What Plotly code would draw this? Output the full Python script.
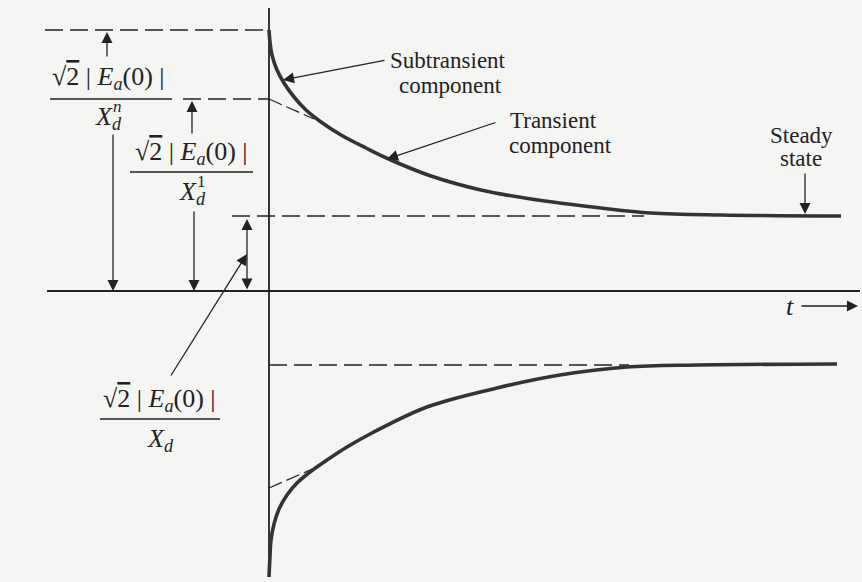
import plotly.graph_objects as go

# ---------------- data (t in arbitrary time units, i in arbitrary current units) ----------
upper_t = [0.00, 0.01, 0.03, 0.08, 0.15, 0.25, 0.37, 0.52, 0.72, 0.97, 1.22, 1.62, 2.12, 2.62, 3.32, 3.82, 4.52, 5.72]
upper_i = [2.61, 2.49, 2.36, 2.21, 2.08, 1.94, 1.81, 1.69, 1.56, 1.43, 1.31, 1.15, 1.01, 0.92, 0.83, 0.78, 0.76, 0.75]

lower_t = [0.00, 0.01, 0.02, 0.05, 0.10, 0.18, 0.28, 0.41, 0.58, 0.78, 1.03, 1.58, 2.28, 2.91, 3.58, 4.28, 5.68]
lower_i = [-2.86, -2.65, -2.49, -2.33, -2.18, -2.04, -1.92, -1.81, -1.69, -1.56, -1.42, -1.16, -0.97, -0.84, -0.76, -0.74, -0.73]

# extrapolated transient envelopes (dashed)
trans_up_t = [0.00, 0.45]
trans_up_i = [1.92, 1.72]
trans_lo_t = [0.00, 0.48]
trans_lo_i = [-1.97, -1.76]

# reference levels (dashed horizontal lines)
level_i = [2.61, 1.92, 0.75, -0.74]
level_t0 = [-2.24, -0.86, -0.37, 0.00]
level_t1 = [0.00, 0.00, 3.75, 3.60]

# axes extents
axis_t = [-2.22, 5.91]
axis_i = [-2.86, 2.83]

# labels
num_label = "√<span style='text-decoration:overline'>2</span> | <i>E</i><sub><i>a</i></sub>(0) |"
den_labels = ["<i>X</i><sub><i>d</i></sub>", "<i>X</i><sub><i>d</i></sub>", "<i>X</i><sub><i>d</i></sub>"]
den_sups = ["<i>n</i>", "1", ""]
comp_labels = [("Subtransient", "component"), ("Transient", "component"), ("Steady", "state")]

INK = "#222222"
FONT = "Liberation Serif"
BG = "#f5f5f4"

fig = go.Figure()

# axes
fig.add_trace(go.Scatter(x=axis_t, y=[0, 0], mode="lines", line=dict(color=INK, width=1.8), hoverinfo="skip"))
fig.add_trace(go.Scatter(x=[0, 0], y=axis_i, mode="lines", line=dict(color=INK, width=1.8), hoverinfo="skip"))

# dashed levels
for yv, a, b in zip(level_i, level_t0, level_t1):
    fig.add_trace(go.Scatter(x=[a, b], y=[yv, yv], mode="lines",
                             line=dict(color=INK, width=1.4, dash="18px,7px"), hoverinfo="skip"))

# transient extrapolations
fig.add_trace(go.Scatter(x=trans_up_t, y=trans_up_i, mode="lines",
                         line=dict(color=INK, width=1.2, dash="14px,5px"), hoverinfo="skip"))
fig.add_trace(go.Scatter(x=trans_lo_t, y=trans_lo_i, mode="lines",
                         line=dict(color=INK, width=1.2, dash="14px,5px"), hoverinfo="skip"))

# envelopes
fig.add_trace(go.Scatter(x=upper_t, y=upper_i, mode="lines",
                         line=dict(color="#333333", width=3.6, shape="spline", smoothing=1.0), hoverinfo="skip"))
fig.add_trace(go.Scatter(x=lower_t, y=lower_i, mode="lines",
                         line=dict(color="#333333", width=3.6, shape="spline", smoothing=1.0), hoverinfo="skip"))

ann = []

def arrow(x0, y0, x1, y1, side="end"):
    ann.append(dict(x=x1, y=y1, ax=x0, ay=y0, xref="x", yref="y", axref="x", ayref="y",
                    text="", showarrow=True, arrowhead=2, arrowsize=1.7, arrowwidth=1.3,
                    arrowcolor=INK, arrowside=side, standoff=0, startstandoff=0,
                    startarrowhead=2, startarrowsize=1.7))

def label(x, y, txt, size=22):
    ann.append(dict(x=x, y=y, xref="x", yref="y", text=txt, showarrow=False,
                    font=dict(family=FONT, size=size, color=INK), xanchor="center", yanchor="middle"))

# dimension arrows
arrow(-1.62, 2.33, -1.62, level_i[0] - 0.02)
arrow(-1.56, 1.58, -1.56, 0.0)
arrow(-0.77, 1.56, -0.77, level_i[1] - 0.02)
arrow(-0.75, 0.81, -0.75, 0.0)
arrow(-0.22, 0.0, -0.22, level_i[2] - 0.03, side="end+start")
arrow(-0.99, -0.86, -0.22, 0.37)

# component leaders
arrow(1.17, 2.31, 0.14, 2.11)
arrow(2.28, 1.69, 1.18, 1.32)
arrow(5.36, 1.19, 5.36, level_i[2] + 0.02)
# time arrow
arrow(5.31, -0.15, 5.89, -0.15)

# fractions
num_pos = [(-1.61, 2.13), (-0.78, 1.38), (-1.10, -1.09)]
den_pos = [(-1.61, 1.73), (-0.77, 0.98), (-1.09, -1.49)]
bars = [(-2.19, -0.97, 1.92), (-1.39, -0.16, 1.19), (-1.69, -0.49, -1.28)]
for (nx, ny), (dx, dy), den, sup in zip(num_pos, den_pos, den_labels, den_sups):
    label(nx, ny, num_label, size=26)
    label(dx, dy, den, size=26)
    if sup:
        label(dx + 0.09, dy + 0.12, sup, size=17)
for (a, b, yv) in bars:
    fig.add_shape(type="line", x0=a, x1=b, y0=yv, y1=yv, xref="x", yref="y", line=dict(color=INK, width=1.4))

# component labels
comp_pos = [((1.79, 2.31), (1.81, 2.06)), ((2.84, 1.71), (2.91, 1.46)), ((5.32, 1.56), (5.32, 1.33))]
for (l1, l2), (p1, p2) in zip(comp_labels, comp_pos):
    label(p1[0], p1[1], l1, size=23)
    label(p2[0], p2[1], l2, size=23)

label(5.21, -0.15, "<i>t</i>", size=26)

fig.update_layout(
    width=862, height=582, margin=dict(l=0, r=0, t=0, b=0),
    paper_bgcolor=BG, plot_bgcolor=BG,
    showlegend=False, annotations=ann,
    xaxis=dict(range=[-2.69, 5.93], visible=False, fixedrange=True),
    yaxis=dict(range=[-2.91, 2.91], visible=False, fixedrange=True),
)

fig.write_html("out.html", config={"displayModeBar": False},
               post_script="document.body.style.margin='0';document.body.style.background='%s';" % BG)
